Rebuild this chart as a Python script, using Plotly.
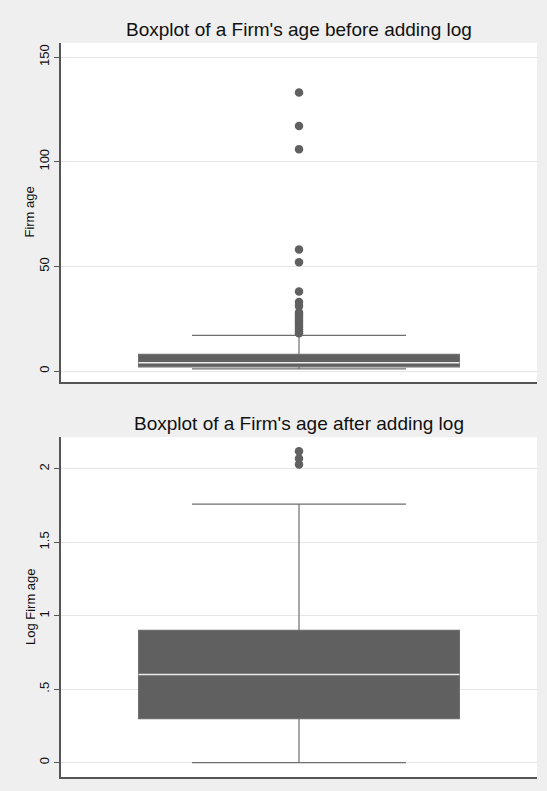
import plotly.graph_objects as go
from plotly.subplots import make_subplots

# ---- data ----
titles = ["Boxplot of a Firm's age before adding log", "Boxplot of a Firm's age after adding log"]
ytitles = ["Firm age", "Log Firm age"]

age_stats = dict(lowerfence=1, q1=2, median=4, q3=8, upperfence=17)
age_outliers = [18, 19, 20, 21, 22, 23, 24, 25, 26, 27, 28, 31, 33, 38, 52, 58, 106, 117, 133]
age_ticks = [0, 50, 100, 150]
age_ticktext = ["0", "50", "100", "150"]

log_stats = dict(lowerfence=0.0, q1=0.30, median=0.60, q3=0.90, upperfence=1.76)
log_outliers = [2.03, 2.07, 2.12]
log_ticks = [0, 0.5, 1, 1.5, 2]
log_ticktext = ["0", ".5", "1", "1.5", "2"]

# ---- style ----
BOX = "#606060"
WHISK = "#6e6e6e"
MED = "#ececec"
BG = "#efefef"
GRID = "#e6e6e6"
FONT = "Liberation Sans, Arial, sans-serif"
BOX_W = 0.674
WHISK_W = 0.667
DOMAINS = [[0.538, 1.0], [0.0, 0.463]]

fig = make_subplots(rows=2, cols=1, vertical_spacing=0.0)

panels = [
    (age_stats, age_outliers, age_ticks, age_ticktext, [-5.3, 156.7]),
    (log_stats, log_outliers, log_ticks, log_ticktext, [-0.098, 2.216]),
]

for i, (st, outl, tv, tt, yr) in enumerate(panels, start=1):
    fig.add_trace(go.Box(
        x=[0], q1=[st["q1"]], median=[st["median"]], q3=[st["q3"]],
        lowerfence=[st["lowerfence"]], upperfence=[st["upperfence"]],
        width=BOX_W, whiskerwidth=WHISK_W, fillcolor=BOX,
        line=dict(color=WHISK, width=1.2), boxpoints=False,
        showlegend=False, hoverinfo="skip",
    ), row=i, col=1)
    fig.add_trace(go.Scatter(
        x=[-BOX_W / 2, BOX_W / 2], y=[st["median"], st["median"]],
        mode="lines", line=dict(color=MED, width=1.5),
        showlegend=False, hoverinfo="skip",
    ), row=i, col=1)
    fig.add_trace(go.Scatter(
        x=[0] * len(outl), y=outl, mode="markers",
        marker=dict(color=BOX, size=8.5, line=dict(width=0)),
        showlegend=False, hoverinfo="skip",
    ), row=i, col=1)
    fig.update_xaxes(range=[-0.5, 0.5], showticklabels=False, ticks="",
                     showgrid=False, zeroline=False, showline=True,
                     linecolor="#555555", linewidth=1.5, row=i, col=1)
    fig.update_yaxes(range=yr, tickvals=tv, ticktext=tt, tickangle=-90,
                     ticks="outside", ticklen=5, tickcolor="#555555",
                     showgrid=True, gridcolor=GRID, gridwidth=1.2,
                     zeroline=False, showline=True, linecolor="#555555",
                     linewidth=1.5, tickfont=dict(size=13, color="#111111"),
                     row=i, col=1)
    d = DOMAINS[i - 1]
    # y-axis title
    fig.add_annotation(text=ytitles[i - 1], x=0, y=(d[0] + d[1]) / 2,
                       xref="paper", yref="paper", xanchor="center",
                       yanchor="middle", xshift=-31, textangle=-90,
                       showarrow=False, font=dict(size=13, color="#111111"))
    # panel title
    fig.add_annotation(text=titles[i - 1], x=0.5, y=d[1], xref="paper", yref="paper",
                       yanchor="bottom", yshift=1, showarrow=False,
                       font=dict(size=19, color="#111111"))

fig.update_xaxes(domain=[0, 1])
fig.update_layout(
    yaxis=dict(domain=DOMAINS[0]),
    yaxis2=dict(domain=DOMAINS[1]),
)

fig.update_layout(
    width=547, height=791,
    margin=dict(l=61, r=10, t=43, b=14),
    paper_bgcolor=BG, plot_bgcolor="white",
    font=dict(family=FONT, color="#111111"),
    showlegend=False,
)

fig.write_html("out.html", config={"displayModeBar": False},
               post_script="document.body.style.margin='0';document.body.style.overflow='hidden';document.body.style.background='%s';" % BG)
